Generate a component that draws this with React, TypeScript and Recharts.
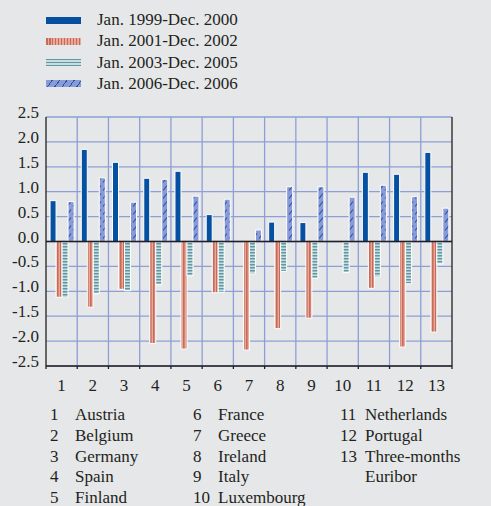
import React from 'react';
import { BarChart, Bar, XAxis, YAxis, CartesianGrid, ReferenceLine } from 'recharts';

// category numbers on the x axis
const countries = ['1', '2', '3', '4', '5', '6', '7', '8', '9', '10', '11', '12', '13'];

// values per period
const period1999 = [0.82, 1.85, 1.59, 1.27, 1.41, 0.54, 0, 0.39, 0.38, 0, 1.39, 1.35, 1.79];
const period2001 = [-1.12, -1.32, -0.96, -2.05, -2.16, -1.03, -2.18, -1.75, -1.54, 0, -0.94, -2.12, -1.82];
const period2003 = [-1.13, -1.05, -0.99, -0.87, -0.69, -1.02, -0.65, -0.6, -0.74, -0.62, -0.71, -0.85, -0.45];
const period2006 = [0.8, 1.28, 0.79, 1.25, 0.91, 0.85, 0.23, 1.1, 1.1, 0.89, 1.13, 0.9, 0.67];

const seriesLabels = ['Jan. 1999-Dec. 2000', 'Jan. 2001-Dec. 2002', 'Jan. 2003-Dec. 2005', 'Jan. 2006-Dec. 2006'];

const yTicks = [2.5, 2.0, 1.5, 1.0, 0.5, 0, -0.5, -1.0, -1.5, -2.0, -2.5];

// key list below the chart, by column
const keyColumns = [
  [['1', 'Austria'], ['2', 'Belgium'], ['3', 'Germany'], ['4', 'Spain'], ['5', 'Finland']],
  [['6', 'France'], ['7', 'Greece'], ['8', 'Ireland'], ['9', 'Italy'], ['10', 'Luxembourg']],
  [['11', 'Netherlands'], ['12', 'Portugal'], ['13', 'Three-months'], ['', 'Euribor']],
];

const data = countries.map((c, i) => ({
  name: c,
  p1: period1999[i] || null,
  p2: period2001[i] || null,
  p3: period2003[i] || null,
  p4: period2006[i] || null,
}));

const FONT = '"Liberation Serif", "Times New Roman", serif';
const INK = '#231f20';
const BG = '#e6e7e9';
const GRID = '#8e9fd4';
const W = 491;
const PLOT_LEFT = 46;
const PLOT_RIGHT = 452;
const STEP = (PLOT_RIGHT - PLOT_LEFT) / countries.length;

const swatches = [
  { background: '#0550a0' },
  { background: 'repeating-linear-gradient(90deg, #c66b5b 0 1.5px, #e8a998 1.5px 3px)' },
  { background: 'repeating-linear-gradient(0deg, #5e98a3 0 1.5px, #c9dde0 1.5px 3px)' },
  { background: 'repeating-linear-gradient(-55deg, #8a9ad6 0 3px, #2356a8 3px 4px, #8a9ad6 4px 6px)' },
];

const LeftTick = (props: any) => {
  const { x, y, payload } = props;
  return (
    <text x={x} y={y - 4.5} textAnchor="end" dominantBaseline="central" fontFamily={FONT} fontSize={17} fill={INK}>
      {payload.value.toFixed(1)}
    </text>
  );
};

const RightTick = (props: any) => {
  const { x, y, payload } = props;
  return (
    <text x={x + 37} y={y - 4.5} textAnchor="end" dominantBaseline="central" fontFamily={FONT} fontSize={17} fill={INK}>
      {payload.value.toFixed(1)}
    </text>
  );
};

const BottomTick = (props: any) => {
  const { x, y, payload, index } = props;
  return (
    <g>
      <line x1={x - STEP / 2} x2={x - STEP / 2} y1={y} y2={y + 3} stroke={INK} strokeWidth={1.3} />
      {index === countries.length - 1 && (
        <line x1={x + STEP / 2} x2={x + STEP / 2} y1={y} y2={y + 3} stroke={INK} strokeWidth={1.3} />
      )}
      <text x={x} y={y + 19} textAnchor="middle" dominantBaseline="central" fontFamily={FONT} fontSize={17} fill={INK}>
        {payload.value}
      </text>
    </g>
  );
};

const App: React.FC = () => {
  return (
    <div style={{ position: 'absolute', left: 0, top: 0, width: W, height: 506, background: BG, fontFamily: FONT, color: INK, overflow: 'hidden' }}>
      {/* series legend */}
      {seriesLabels.map((label, i) => (
        <div key={label} style={{ position: 'absolute', left: 46, top: 20 + i * 21.3 - 11, height: 22, display: 'flex', alignItems: 'center' }}>
          <div style={{ width: 35, height: 7, ...swatches[i] }} />
          <span style={{ marginLeft: 16, fontSize: 17, whiteSpace: 'nowrap' }}>{label}</span>
        </div>
      ))}

      <div style={{ position: 'absolute', left: 0, top: 0 }}>
        <BarChart
          width={W}
          height={400}
          data={data}
          margin={{ top: 117, right: 0, bottom: 4, left: 0 }}
          barCategoryGap="13%"
          barGap={0}
        >
          <defs>
            <pattern id="redStripe" width={3} height={10} patternUnits="userSpaceOnUse">
              <rect width={3} height={10} fill="#e8a998" />
              <rect width={1.6} height={10} fill="#c66b5b" />
            </pattern>
            <pattern id="tealStripe" width={10} height={3} patternUnits="userSpaceOnUse">
              <rect width={10} height={3} fill="#c9dde0" />
              <rect width={10} height={1.5} fill="#5e98a3" />
            </pattern>
            <pattern id="blueHatch" width={6} height={8} patternUnits="userSpaceOnUse">
              <rect width={6} height={8} fill="#8a9ad6" />
              <line x1={1} y1={6.5} x2={5} y2={1.5} stroke="#2356a8" strokeWidth={1.2} />
            </pattern>
          </defs>
          <CartesianGrid
            stroke={GRID}
            strokeWidth={1.3}
            verticalCoordinatesGenerator={({ offset }: any) =>
              Array.from({ length: countries.length - 1 }, (_, i) => offset.left + ((i + 1) * offset.width) / countries.length)
            }
          />
          <XAxis
            dataKey="name"
            height={30}
            axisLine={{ stroke: INK, strokeWidth: 1.3 }}
            tickLine={false}
            tickSize={0}
            tickMargin={0}
            interval={0}
            tick={<BottomTick />}
          />
          <YAxis
            domain={[-2.5, 2.5]}
            ticks={yTicks}
            width={PLOT_LEFT}
            axisLine={{ stroke: INK, strokeWidth: 1.3 }}
            tickLine={false}
            tickSize={0}
            tickMargin={7}
            interval={0}
            tick={<LeftTick />}
          />
          <YAxis
            yAxisId="right"
            orientation="right"
            domain={[-2.5, 2.5]}
            ticks={yTicks}
            width={W - PLOT_RIGHT}
            axisLine={{ stroke: INK, strokeWidth: 1.3 }}
            tickLine={false}
            tickSize={0}
            tickMargin={0}
            interval={0}
            tick={<RightTick />}
          />
          <Bar dataKey="p1" fill="#0550a0" stroke="#fff" strokeWidth={1} isAnimationActive={false} />
          <Bar dataKey="p2" fill="url(#redStripe)" stroke="#fff" strokeWidth={1} isAnimationActive={false} />
          <Bar dataKey="p3" fill="url(#tealStripe)" stroke="#fff" strokeWidth={1} isAnimationActive={false} />
          <Bar dataKey="p4" fill="url(#blueHatch)" stroke="#fff" strokeWidth={1} isAnimationActive={false} />
          <ReferenceLine y={0} stroke={INK} strokeWidth={1.3} />
        </BarChart>
      </div>

      {/* country key */}
      {keyColumns.map((col, ci) => (
        <div key={ci} style={{ position: 'absolute', left: [50, 193, 340][ci], top: 405 }}>
          {col.map(([num, name], ri) => (
            <div key={ri} style={{ height: 20.8, lineHeight: '20.8px', fontSize: 17, whiteSpace: 'nowrap' }}>
              <span style={{ display: 'inline-block', minWidth: 22, marginRight: 3 }}>{num}</span>
              {name}
            </div>
          ))}
        </div>
      ))}
    </div>
  );
};

export default App;
